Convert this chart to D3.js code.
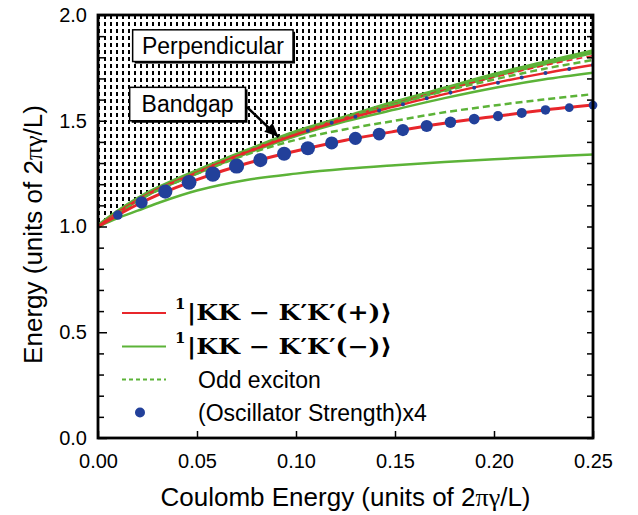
<!DOCTYPE html>
<html>
<head>
<meta charset="utf-8">
<script src="https://cdn.jsdelivr.net/npm/d3@7"></script>
<style>
  body { margin: 0; background: #ffffff; }
  svg text { font-family: 'Liberation Sans', Arial, Helvetica, sans-serif; fill: #000; }
</style>
</head>
<body>
<div id="chart"></div>
<script>
var coulombX = [0, 0.01, 0.02, 0.03, 0.05, 0.075, 0.1, 0.125, 0.15, 0.175, 0.2, 0.225, 0.25]

// Curves (energy in units of 2 pi gamma / L)
var bandgap = [1.0, 1.068, 1.128, 1.178, 1.26, 1.355, 1.445, 1.515, 1.585, 1.65, 1.715, 1.772, 1.826]
var plusUpper = [1.0, 1.066, 1.125, 1.175, 1.255, 1.35, 1.435, 1.507, 1.568, 1.626, 1.678, 1.724, 1.764]
var minusUpper = [1.0, 1.065, 1.123, 1.172, 1.25, 1.345, 1.428, 1.497, 1.553, 1.607, 1.655, 1.695, 1.727]
var oddUpper = [1.0, 1.067, 1.127, 1.177, 1.258, 1.353, 1.44, 1.512, 1.578, 1.64, 1.695, 1.745, 1.787]
var plusDashed = [1.0, 1.068, 1.128, 1.178, 1.26, 1.355, 1.443, 1.515, 1.582, 1.646, 1.705, 1.76, 1.808]
var oddLower = [1.0, 1.06, 1.12, 1.17, 1.25, 1.34, 1.41, 1.46, 1.50, 1.54, 1.572, 1.60, 1.626]
var plusLower = [1.0, 1.054, 1.104, 1.148, 1.222, 1.298, 1.357, 1.408, 1.45, 1.488, 1.52, 1.55, 1.574]
var minusLower = [1.0, 1.04, 1.075, 1.11, 1.17, 1.22, 1.25, 1.273, 1.29, 1.305, 1.318, 1.33, 1.341]

// Oscillator strength points on the lower (+) exciton
var oscX = [0.010, 0.022, 0.034, 0.046, 0.058, 0.070, 0.082, 0.094, 0.106, 0.118, 0.130,
  0.142, 0.154, 0.166, 0.178, 0.190, 0.202, 0.214, 0.226, 0.238, 0.250]
var oscE = [1.054, 1.114, 1.165, 1.209, 1.248, 1.286, 1.314, 1.344, 1.370, 1.395, 1.417,
  1.437, 1.456, 1.475, 1.493, 1.508, 1.522, 1.537, 1.551, 1.562, 1.574]
var oscStrength = [0.39, 0.64, 0.87, 0.95, 1.0, 1.0, 0.87, 0.87, 0.87, 0.75, 0.75,
  0.71, 0.64, 0.64, 0.58, 0.50, 0.44, 0.44, 0.39, 0.33, 0.33]

// Weak oscillator strength points on the upper (+) exciton
var oscUpperX = [0.106, 0.118, 0.130, 0.142, 0.154, 0.166, 0.178, 0.190, 0.202, 0.214, 0.226, 0.238, 0.250]
var oscUpperE = [1.453, 1.491, 1.519, 1.548, 1.578, 1.606, 1.633, 1.656, 1.680, 1.704, 1.726, 1.745, 1.764]
var oscUpperStrength = [0.07, 0.07, 0.07, 0.07, 0.07, 0.07, 0.07, 0.07, 0.07, 0.07, 0.07, 0.07, 0.07]

// Tick values
var xTicks = [0, 0.05, 0.10, 0.15, 0.20, 0.25]
var yMajorTicks = [0, 0.5, 1.0, 1.5, 2.0]
var yMinorTicks = [0.1, 0.2, 0.3, 0.4, 0.6, 0.7, 0.8, 0.9, 1.1, 1.2, 1.3, 1.4, 1.6, 1.7, 1.8, 1.9]

// Legend entries
var legendLabels = ['|KK \u2212 K\u2032K\u2032(+)\u27E9', '|KK \u2212 K\u2032K\u2032(\u2212)\u27E9', 'Odd exciton', '(Oscillator Strength)x4']

// Colours
var red = '#e8262b'
var green = '#5cb338'
var blue = '#22409a'

// Layout
var width = 638
var height = 515
var margin = { top: 15, right: 45, bottom: 77, left: 98 }

var svg = d3.select('#chart').append('svg')
  .attr('width', width)
  .attr('height', height)

var x = d3.scaleLinear().domain([0, 0.25]).range([margin.left, width - margin.right])
var y = d3.scaleLinear().domain([0, 2]).range([height - margin.bottom, margin.top])
var r = d3.scaleSqrt().domain([0, 1]).range([0, 7.6])

var defs = svg.append('defs')

// Dashed hatch used for the continuum above the bandgap
var pattern = defs.append('pattern')
  .attr('id', 'hatch')
  .attr('patternUnits', 'userSpaceOnUse')
  .attr('width', 6)
  .attr('height', 7)
pattern.append('rect').attr('width', 6).attr('height', 7).attr('fill', '#fff')
pattern.append('rect').attr('x', 2).attr('y', 1).attr('width', 2).attr('height', 4).attr('fill', '#000')

defs.append('clipPath').attr('id', 'plotClip')
  .append('rect')
  .attr('x', margin.left)
  .attr('y', margin.top)
  .attr('width', width - margin.left - margin.right)
  .attr('height', height - margin.top - margin.bottom)

defs.append('marker')
  .attr('id', 'arrowHead')
  .attr('markerUnits', 'userSpaceOnUse')
  .attr('viewBox', '0 0 14 12')
  .attr('refX', 14)
  .attr('refY', 6)
  .attr('markerWidth', 15)
  .attr('markerHeight', 12)
  .attr('orient', 'auto')
  .append('path')
  .attr('d', 'M0,0 L14,6 L0,12 Z')
  .attr('fill', '#000')

var plot = svg.append('g').attr('clip-path', 'url(#plotClip)')

var smooth = d3.curveCatmullRom.alpha(0.5)

// Hatched continuum above the bandgap
var area = d3.area()
  .x(function (d, i) { return x(coulombX[i]) })
  .y0(y(2))
  .y1(function (d) { return y(d) })
  .curve(smooth)

plot.append('path')
  .datum(bandgap)
  .attr('d', area)
  .attr('fill', 'url(#hatch)')

var line = d3.line()
  .x(function (d, i) { return x(coulombX[i]) })
  .y(function (d) { return y(d) })
  .curve(smooth)

function drawCurve (values, colour, widthPx, dash) {
  plot.append('path')
    .datum(values)
    .attr('d', line)
    .attr('fill', 'none')
    .attr('stroke', colour)
    .attr('stroke-width', widthPx)
    .attr('stroke-dasharray', dash || null)
}

drawCurve(bandgap, green, 5)
drawCurve(plusDashed, red, 1.5, '6,4')
drawCurve(oddUpper, green, 2.5, '7,4')
drawCurve(minusUpper, green, 2.5)
drawCurve(plusUpper, red, 2.5)
drawCurve(minusLower, green, 2.5)
drawCurve(oddLower, green, 2.5, '7,4')
drawCurve(plusLower, red, 3)

// Oscillator strength markers
plot.selectAll('.oscUpper')
  .data(oscUpperX)
  .enter().append('circle')
  .attr('class', 'oscUpper')
  .attr('cx', function (d) { return x(d) })
  .attr('cy', function (d, i) { return y(oscUpperE[i]) })
  .attr('r', function (d, i) { return r(oscUpperStrength[i]) })
  .attr('fill', blue)

svg.selectAll('.osc')
  .data(oscX)
  .enter().append('circle')
  .attr('class', 'osc')
  .attr('cx', function (d) { return x(d) })
  .attr('cy', function (d, i) { return y(oscE[i]) })
  .attr('r', function (d, i) { return r(oscStrength[i]) })
  .attr('fill', blue)

// Axes: ticks point inwards, frame drawn separately
var xAxis = svg.append('g')
  .attr('transform', 'translate(0,' + y(0) + ')')
  .call(d3.axisBottom(x).tickValues(xTicks).tickFormat(d3.format('.2f')).tickSizeInner(-7).tickSizeOuter(0).tickPadding(16))
xAxis.select('.domain').remove()

var yAxis = svg.append('g')
  .attr('transform', 'translate(' + x(0) + ',0)')
  .call(d3.axisLeft(y).tickValues(yMajorTicks).tickFormat(d3.format('.1f')).tickSizeInner(-9).tickSizeOuter(0).tickPadding(11))
yAxis.select('.domain').remove()

var yMinor = svg.append('g')
  .attr('transform', 'translate(' + x(0) + ',0)')
  .call(d3.axisLeft(y).tickValues(yMinorTicks).tickFormat('').tickSizeInner(-6).tickSizeOuter(0))
yMinor.select('.domain').remove()

var yRight = svg.append('g')
  .attr('transform', 'translate(' + x(0.25) + ',0)')
  .call(d3.axisRight(y).tickValues(yMajorTicks.concat(yMinorTicks)).tickFormat('').tickSizeInner(-6).tickSizeOuter(0))
yRight.select('.domain').remove()

svg.selectAll('.tick line').attr('stroke', '#000').attr('stroke-width', 1.5)
svg.selectAll('.tick text').style('font-size', '20px').style('font-family', "'Liberation Sans', Arial, sans-serif")

svg.append('rect')
  .attr('x', x(0))
  .attr('y', y(2))
  .attr('width', x(0.25) - x(0))
  .attr('height', y(0) - y(2))
  .attr('fill', 'none')
  .attr('stroke', '#000')
  .attr('stroke-width', 2.8)

// Axis titles
var xTitle = svg.append('text')
  .attr('x', (x(0) + x(0.25)) / 2)
  .attr('y', 506)
  .attr('text-anchor', 'middle')
  .style('font-size', '26px')
xTitle.append('tspan').text('Coulomb Energy (units of 2')
xTitle.append('tspan').style('font-family', "'Liberation Serif', serif").text('\u03C0\u03B3')
xTitle.append('tspan').text('/L)')

var yTitle = svg.append('text')
  .attr('transform', 'translate(42,' + ((y(0) + y(2)) / 2 + 8) + ') rotate(-90)')
  .attr('text-anchor', 'middle')
  .style('font-size', '26px')
yTitle.append('tspan').text('Energy (units of 2')
yTitle.append('tspan').style('font-family', "'Liberation Serif', serif").text('\u03C0\u03B3')
yTitle.append('tspan').text('/L)')

// Annotation boxes
function labelBox (text, x0, e0, x1, e1) {
  var bx = x(x0)
  var by = y(e0)
  var bw = x(x1) - x(x0)
  var bh = y(e1) - y(e0)
  svg.append('rect').attr('x', bx + 2).attr('y', by + 2).attr('width', bw).attr('height', bh).attr('fill', '#000')
  svg.append('rect').attr('x', bx).attr('y', by).attr('width', bw).attr('height', bh)
    .attr('fill', '#fff').attr('stroke', '#000').attr('stroke-width', 1.5)
  svg.append('text')
    .attr('x', bx + bw / 2)
    .attr('y', by + bh / 2)
    .attr('dy', '0.36em')
    .attr('text-anchor', 'middle')
    .style('font-size', '23px')
    .text(text)
}

labelBox('Perpendicular', 0.0175, 1.93, 0.0985, 1.78)
labelBox('Bandgap', 0.016, 1.658, 0.0745, 1.50)

svg.append('line')
  .attr('x1', x(0.0752))
  .attr('y1', y(1.565))
  .attr('x2', x(0.0912))
  .attr('y2', y(1.423))
  .attr('stroke', '#000')
  .attr('stroke-width', 2.5)
  .attr('marker-end', 'url(#arrowHead)')

// Legend
var legendY = [313, 346.5, 379.5, 412.5]
var legend = svg.append('g')

legend.append('line').attr('x1', 122).attr('x2', 166).attr('y1', legendY[0]).attr('y2', legendY[0])
  .attr('stroke', red).attr('stroke-width', 2)
legend.append('line').attr('x1', 122).attr('x2', 166).attr('y1', legendY[1]).attr('y2', legendY[1])
  .attr('stroke', green).attr('stroke-width', 2)
legend.append('line').attr('x1', 122).attr('x2', 166).attr('y1', legendY[2]).attr('y2', legendY[2])
  .attr('stroke', green).attr('stroke-width', 2).attr('stroke-dasharray', '4,3')
legend.append('circle').attr('cx', 140).attr('cy', legendY[3]).attr('r', 5).attr('fill', blue)

legendLabels.forEach(function (label, i) {
  if (i < 2) {
    legend.append('text')
      .attr('x', 175)
      .attr('y', legendY[i] - 4)
      .style('font-family', "'DejaVu Serif', serif")
      .style('font-weight', 'bold')
      .style('font-size', '15px')
      .text('1')
    legend.append('text')
      .attr('x', 187)
      .attr('y', legendY[i] + 7)
      .attr('textLength', 205)
      .attr('lengthAdjust', 'spacingAndGlyphs')
      .style('font-family', "'DejaVu Serif', serif")
      .style('font-weight', 'bold')
      .style('font-size', '22px')
      .text(label)
  } else {
    legend.append('text')
      .attr('x', 198)
      .attr('y', legendY[i])
      .attr('dy', '0.36em')
      .style('font-size', '23px')
      .text(label)
  }
})
</script>
</body>
</html>
